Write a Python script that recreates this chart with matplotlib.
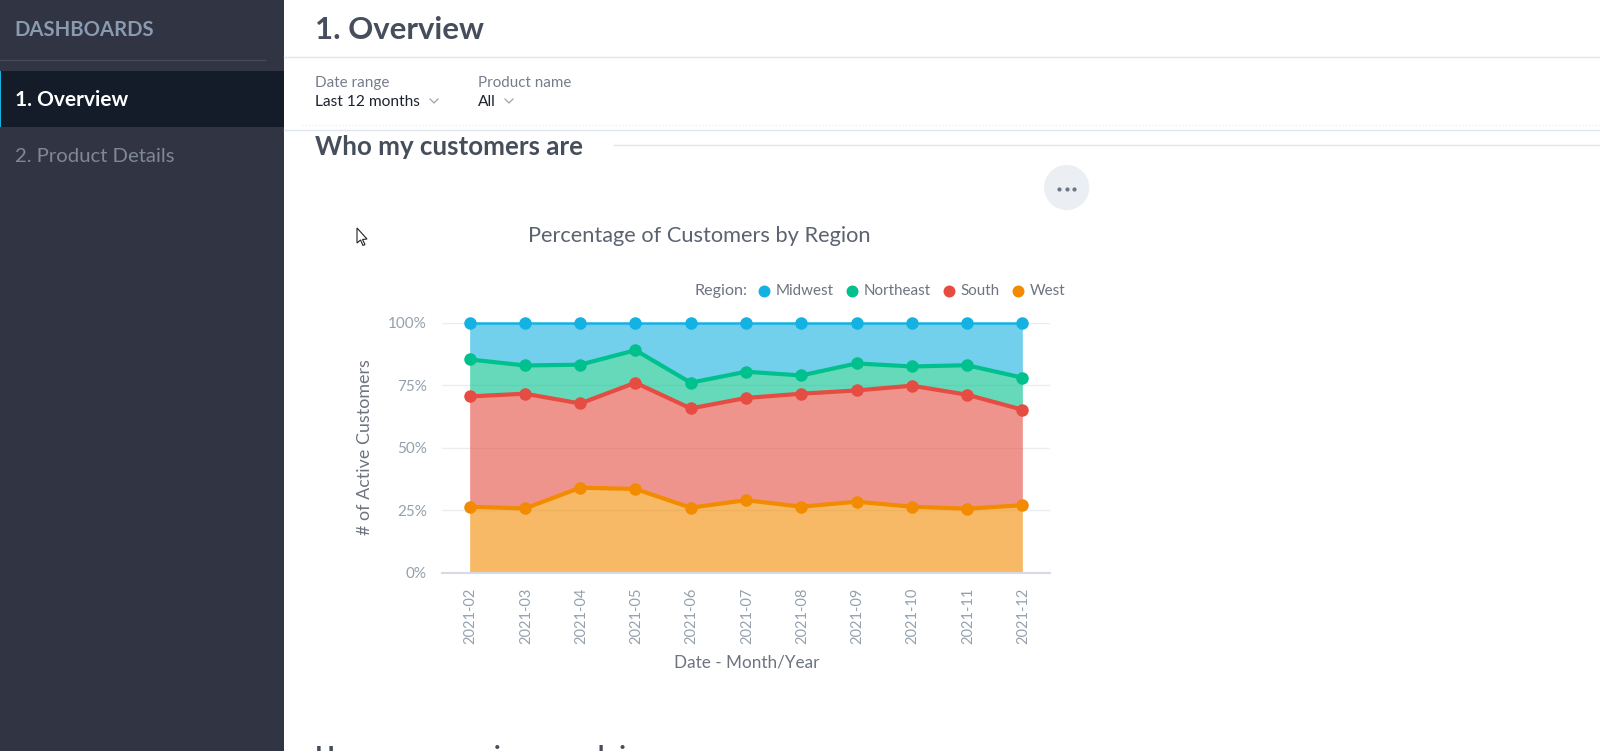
import matplotlib
matplotlib.use("Agg")
import matplotlib.pyplot as plt
from matplotlib.patches import Rectangle, Circle, Polygon
from matplotlib.transforms import ScaledTranslation
import numpy as np

plt.rcParams['font.family'] = ['Lato', 'DejaVu Sans']

months = ['2021-02', '2021-03', '2021-04', '2021-05', '2021-06', '2021-07',
          '2021-08', '2021-09', '2021-10', '2021-11', '2021-12']
# share of customers per region, in percent
west = [26.4, 25.7, 34.0, 33.5, 26.0, 29.0, 26.4, 28.4, 26.4, 25.6, 27.0]
south = [44.1, 45.9, 33.7, 42.5, 39.7, 40.9, 45.2, 44.5, 48.4, 45.6, 38.2]
northeast = [14.8, 11.3, 15.5, 13.0, 10.3, 10.5, 7.3, 10.8, 7.7, 11.8, 12.8]
midwest = [14.7, 17.1, 16.8, 11.0, 24.0, 19.6, 21.1, 16.3, 17.5, 17.0, 22.0]

regions = ['Midwest', 'Northeast', 'South', 'West']
colors = ['#14b2e2', '#00c18d', '#e54d42', '#f38b00']
yticks = [0, 25, 50, 75, 100]

W, H = 1600, 751
fig = plt.figure(figsize=(W / 100, H / 100), dpi=100, facecolor='white')

# whole page in pixel coordinates, y going down
page = fig.add_axes([0, 0, 1, 1])
page.set_xlim(0, W)
page.set_ylim(H, 0)
page.axis('off')

# sidebar
page.add_patch(Rectangle((0, 0), 284, H, fc='#313543', lw=0))
page.add_patch(Rectangle((0, 71), 284, 56, fc='#131c28', lw=0))
page.add_patch(Rectangle((0, 71), 1.2, 56, fc='#14b2e2', lw=0))
page.plot([0, 265], [60, 60], color='#464a57', lw=1)
page.text(14.5, 30, 'DASHBOARDS', color='#8a9bb0', fontsize=14.6, fontweight='bold', va='center')
page.text(15, 100.5, '1. Overview', color='white', fontsize=15, fontweight='bold', va='center')
page.text(15, 157, '2. Product Details', color='#7f8896', fontsize=14.6, va='center')

# header and filters
page.plot([284, W], [56.5, 56.5], color='#dfe5ee', lw=1)
page.plot([302, W], [125, 125], color='#e6eaf0', lw=0.8, ls=(0, (1, 2)))
page.plot([284, W], [129.5, 129.5], color='#dfe5ee', lw=1)
page.text(315, 30, '1. Overview', color='#464e5c', fontsize=22.4, fontweight='bold', va='center')
page.text(315, 83, 'Date range', color='#767d8a', fontsize=11, va='center')
page.text(315, 102, 'Last 12 months', color='#1d2430', fontsize=11.2, va='center')
page.text(478, 83, 'Product name', color='#767d8a', fontsize=10.9, va='center')
page.text(478, 102, 'All', color='#1d2430', fontsize=11.2, va='center')
for cx in [434, 509]:
    page.plot([cx - 4, cx, cx + 4], [99, 103, 99], color='#9aa3af', lw=0.9)

# section headings
page.text(315, 147, 'Who my customers are', color='#464e5c', fontsize=18.6, fontweight='bold', va='center')
page.plot([614, W], [145, 145], color='#dfe5ee', lw=1)
# only the tops of this heading show at the bottom edge, the wording is a best guess
page.text(315, 764.6, 'How my campaigns are doing', color='#464e5c', fontsize=18.6,
          fontweight='bold', va='baseline', clip_on=True)

# menu button
page.add_patch(Circle((1066.7, 187.5), 22.6, fc='#ebeff3', lw=0))
page.plot([1059.3, 1066.7, 1074.3], [189.3, 189.3, 189.3], ls='none', marker='o', ms=2, color='#6d7685')

# cursor
page.add_patch(Polygon([(357, 228), (357, 243), (360.5, 240), (363, 245.5), (365, 244.5),
                        (362.5, 239.5), (367, 239)], closed=True, fc='white', ec='#222222', lw=0.8))

# chart
ax = fig.add_axes([442 / W, 1 - 572.7 / H, 608 / W, 250 / H])
x = np.arange(len(months))
series = [west, south, northeast, midwest]
tops = np.cumsum(series, axis=0)
bottom = np.zeros(len(months))
for top, color in zip(tops, colors[::-1]):
    ax.fill_between(x, bottom, top, color=color, alpha=0.6, lw=0, zorder=2)
    bottom = top
for i, (top, color) in enumerate(zip(tops[::-1], colors)):
    # top series sits on the axis edge, so its line reads thinner
    ax.plot(x, top, color=color, lw=1.8 if i == 0 else 3, marker='o', ms=9, mew=0, zorder=3, clip_on=False)

ax.set_xlim(-0.5, 10.5)
ax.set_ylim(0, 100)
ax.set_yticks(yticks)
ax.set_yticklabels([f'{v}%' for v in yticks], color='#94a1ad', fontsize=11)
ax.set_xticks(x)
ax.set_xticklabels(months, rotation=90, color='#94a1ad', fontsize=10.5)
ax.tick_params(axis='both', length=0)
ax.tick_params(axis='x', pad=11)
ax.tick_params(axis='y', pad=11)
shift = ScaledTranslation(1 / 100, 0, fig.dpi_scale_trans)
for label in ax.get_xticklabels():
    label.set_transform(label.get_transform() + shift)
ax.grid(axis='y', color='#ebedf0', lw=1, zorder=1)
ax.set_axisbelow(True)
for name in ['top', 'right', 'left']:
    ax.spines[name].set_visible(False)
ax.spines['bottom'].set_color('#d5dae5')
ax.spines['bottom'].set_linewidth(1.5)

# chart titles drawn on the page so they sit where the original has them
page.text(699, 235.5, 'Percentage of Customers by Region', color='#5b6370', fontsize=15.7, ha='center', va='center')
page.text(747, 663, 'Date - Month/Year', color='#6d7480', fontsize=12.3, ha='center', va='center')
page.text(364.5, 447, '# of Active Customers', color='#6d7480', fontsize=12.9, rotation=90, ha='center', va='center')

# legend
page.text(695, 291, 'Region:', color='#6d7480', fontsize=11.6, va='center')
legend_dot = [764, 851.5, 948.5, 1017.5]
for name, color, lx in zip(regions, colors, legend_dot):
    page.plot([lx], [291], marker='o', ms=8.6, mew=0, color=color, ls='none')
    page.text(lx + 12, 291, name, color='#6d7480', fontsize=10.9, va='center')

fig.savefig('out.png', dpi=100, facecolor='white')
